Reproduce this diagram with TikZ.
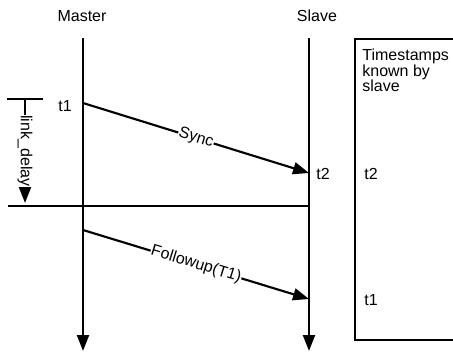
\documentclass[tikz,border=0pt]{standalone}
\usepackage{fontspec}
\setmainfont{Liberation Sans}
\usetikzlibrary{arrows.meta}

\begin{document}
\begin{tikzpicture}[x=0.75pt, y=-0.75pt, line width=1.6pt,
    every node/.style={font=\fontsize{12}{11.5}\selectfont, inner sep=1pt},
    msg/.style={-{Triangle[length=12pt,width=9pt]}},
    tag/.style={fill=white, inner sep=0.5pt}]
  \useasboundingbox (0,0) rectangle (453,351);
  \clip (0,0) rectangle (453,351);

  % lifelines
  \node (master) at (82,16) {Master};
  \node (slave) at (317,16) {Slave};
  \coordinate (mtop) at (83,38);
  \coordinate (mbot) at (83,351);
  \coordinate (stop) at (309,38);
  \coordinate (sbot) at (309,351);
  \draw[msg] (mtop) -- (mbot);
  \draw[msg] (stop) -- (sbot);

  % link delay
  \coordinate (barl) at (7,99);
  \coordinate (barr) at (43,99);
  \coordinate (dtop) at (25,99);
  \coordinate (dbot) at (25,203);
  \draw (barl) -- (barr);
  \draw[msg] (dtop) -- node[tag, rotate=-90] (delay) {link\_delay} (dbot);
  \coordinate (hl) at (8,206);
  \coordinate (hr) at (309,206);
  \draw (hl) -- (hr);

  % messages
  \coordinate (sync s) at (83,103);
  \coordinate (sync e) at (309,173);
  \coordinate (fu s) at (83,230);
  \coordinate (fu e) at (309,299);
  \draw[msg] (sync s) -- node[tag, sloped] (sync) {Sync} (sync e);
  \draw[msg] (fu s) -- node[tag, sloped] (fu) {Followup(T1)} (fu e);
  \node (t1) at (65,106) {t1};
  \node (t2) at (323,174) {t2};

  % slave side
  \draw[line width=1pt] (470,39) -- (355,39) -- (355,340) -- (470,340);
  \node[anchor=north west, align=left] (known) at (360,47) {Timestamps\\known by\\slave};
  \node (kt2) at (371,174) {t2};
  \node (kt1) at (371,300) {t1};
\end{tikzpicture}
\end{document}
